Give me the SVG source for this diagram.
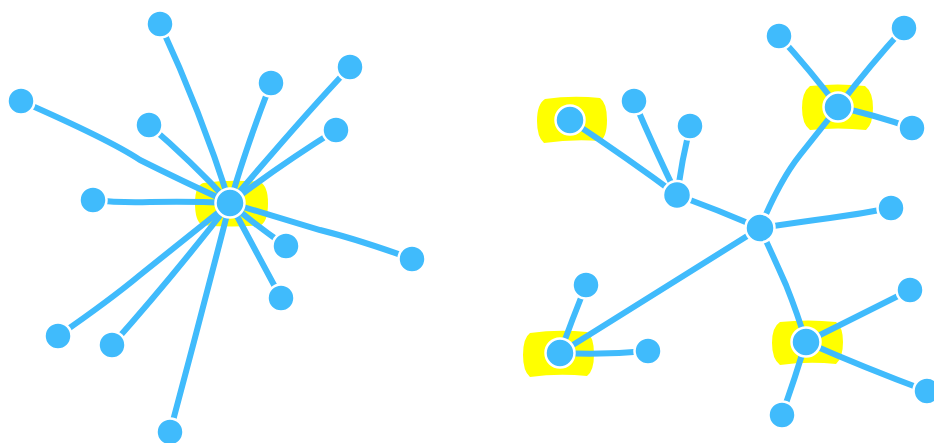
<svg xmlns="http://www.w3.org/2000/svg" width="934" height="443" viewBox="0 0 934 443">
<style>
.hl{fill:#ffff00;stroke:none}
.e{fill:none;stroke:#40bbfc;stroke-width:6;stroke-linecap:round}
.n{fill:#40bbfc;stroke:#ffffff;stroke-width:2.5}
</style>
<rect width="934" height="443" fill="#ffffff"/>
<g id="highlights">
<path class="hl" d="M203,183 Q231,179 260,182 Q268,186 268,203 Q268,221 261,225 Q232,228 202,225 Q195,221 195,203 Q195,186 203,183 Z"/>
<path class="hl" d="M545,99 Q572,95 600,98 Q607,103 607,120 Q607,137 600,141 Q572,139 544,143 Q537,137 537,121 Q537,104 545,99 Z"/>
<path class="hl" d="M810,86 Q838,83 865,86 Q873,92 873,108 Q873,124 866,130 Q838,127 810,130 Q802,124 802,108 Q802,92 810,86 Z"/>
<path class="hl" d="M530,333 Q558,329 587,332 Q594,337 594,354 Q594,371 587,376 Q558,373 530,377 Q523,371 523,355 Q523,338 530,333 Z"/>
<path class="hl" d="M780,322 Q808,319 836,322 Q843,327 843,342 Q843,358 836,364 Q808,361 780,365 Q772,359 772,343 Q772,327 780,322 Z"/>
</g>
<g id="connectors">
<path class="e" d="M160,24 Q200,110 230,203"/>
<path class="e" d="M21,101 Q110,140 140,160 Q180,180 230,203"/>
<path class="e" d="M149,125 Q190,160 230,203"/>
<path class="e" d="M271,83 Q245,150 230,203"/>
<path class="e" d="M350,67 Q300,120 230,203"/>
<path class="e" d="M336,130 Q280,165 230,203"/>
<path class="e" d="M93,200 Q120,203 150,202 Q190,201 230,203"/>
<path class="e" d="M286,246 Q255,225 230,203"/>
<path class="e" d="M412,259 Q360,240 320,230 Q270,215 230,203"/>
<path class="e" d="M281,298 Q255,250 230,203"/>
<path class="e" d="M58,336 Q110,300 140,275 Q190,235 230,203"/>
<path class="e" d="M112,345 Q170,280 230,203"/>
<path class="e" d="M170,432 Q200,320 230,203"/>
<path class="e" d="M760,228 Q718,210 677,195"/>
<path class="e" d="M570,120 Q630,160 677,195"/>
<path class="e" d="M634,101 Q655,150 677,195"/>
<path class="e" d="M690,126 Q682,160 677,195"/>
<path class="e" d="M760,228 Q780,180 800,155 Q820,130 838,107"/>
<path class="e" d="M779,36 Q810,70 838,107"/>
<path class="e" d="M904,28 Q870,65 838,107"/>
<path class="e" d="M912,128 Q875,115 838,107"/>
<path class="e" d="M760,228 Q800,222 830,218 Q860,214 891,208"/>
<path class="e" d="M760,228 Q660,290 560,353"/>
<path class="e" d="M586,285 Q572,320 560,353"/>
<path class="e" d="M648,351 Q605,355 560,353"/>
<path class="e" d="M760,228 Q775,260 786,285 Q798,315 806,342"/>
<path class="e" d="M910,290 Q860,315 806,342"/>
<path class="e" d="M927,391 Q865,368 806,342"/>
<path class="e" d="M782,415 Q795,378 806,342"/>
</g>
<g id="node-c1"><circle class="n" cx="230" cy="203" r="14.5"/></g>
<g id="node-l1"><circle class="n" cx="160" cy="24" r="13.5"/></g>
<g id="node-l2"><circle class="n" cx="21" cy="101" r="13.5"/></g>
<g id="node-l3"><circle class="n" cx="149" cy="125" r="13.5"/></g>
<g id="node-l4"><circle class="n" cx="271" cy="83" r="13.5"/></g>
<g id="node-l5"><circle class="n" cx="350" cy="67" r="13.5"/></g>
<g id="node-l6"><circle class="n" cx="336" cy="130" r="13.5"/></g>
<g id="node-l7"><circle class="n" cx="93" cy="200" r="13.5"/></g>
<g id="node-l8"><circle class="n" cx="286" cy="246" r="13.5"/></g>
<g id="node-l9"><circle class="n" cx="412" cy="259" r="13.5"/></g>
<g id="node-l10"><circle class="n" cx="281" cy="298" r="13.5"/></g>
<g id="node-l11"><circle class="n" cx="58" cy="336" r="13.5"/></g>
<g id="node-l12"><circle class="n" cx="112" cy="345" r="13.5"/></g>
<g id="node-l13"><circle class="n" cx="170" cy="432" r="13.5"/></g>
<g id="node-r"><circle class="n" cx="760" cy="228" r="14.5"/></g>
<g id="node-a"><circle class="n" cx="677" cy="195" r="14"/></g>
<g id="node-a1"><circle class="n" cx="570" cy="120" r="14.5"/></g>
<g id="node-a2"><circle class="n" cx="634" cy="101" r="13.5"/></g>
<g id="node-a3"><circle class="n" cx="690" cy="126" r="13.5"/></g>
<g id="node-b"><circle class="n" cx="838" cy="107" r="14.5"/></g>
<g id="node-b1"><circle class="n" cx="779" cy="36" r="13.5"/></g>
<g id="node-b2"><circle class="n" cx="904" cy="28" r="13.5"/></g>
<g id="node-b3"><circle class="n" cx="912" cy="128" r="13.5"/></g>
<g id="node-r1"><circle class="n" cx="891" cy="208" r="13.5"/></g>
<g id="node-d"><circle class="n" cx="560" cy="353" r="14.5"/></g>
<g id="node-d1"><circle class="n" cx="586" cy="285" r="13.5"/></g>
<g id="node-d2"><circle class="n" cx="648" cy="351" r="13.5"/></g>
<g id="node-e"><circle class="n" cx="806" cy="342" r="14.5"/></g>
<g id="node-e1"><circle class="n" cx="910" cy="290" r="13.5"/></g>
<g id="node-e2"><circle class="n" cx="927" cy="391" r="13.5"/></g>
<g id="node-e3"><circle class="n" cx="782" cy="415" r="13.5"/></g>
</svg>
